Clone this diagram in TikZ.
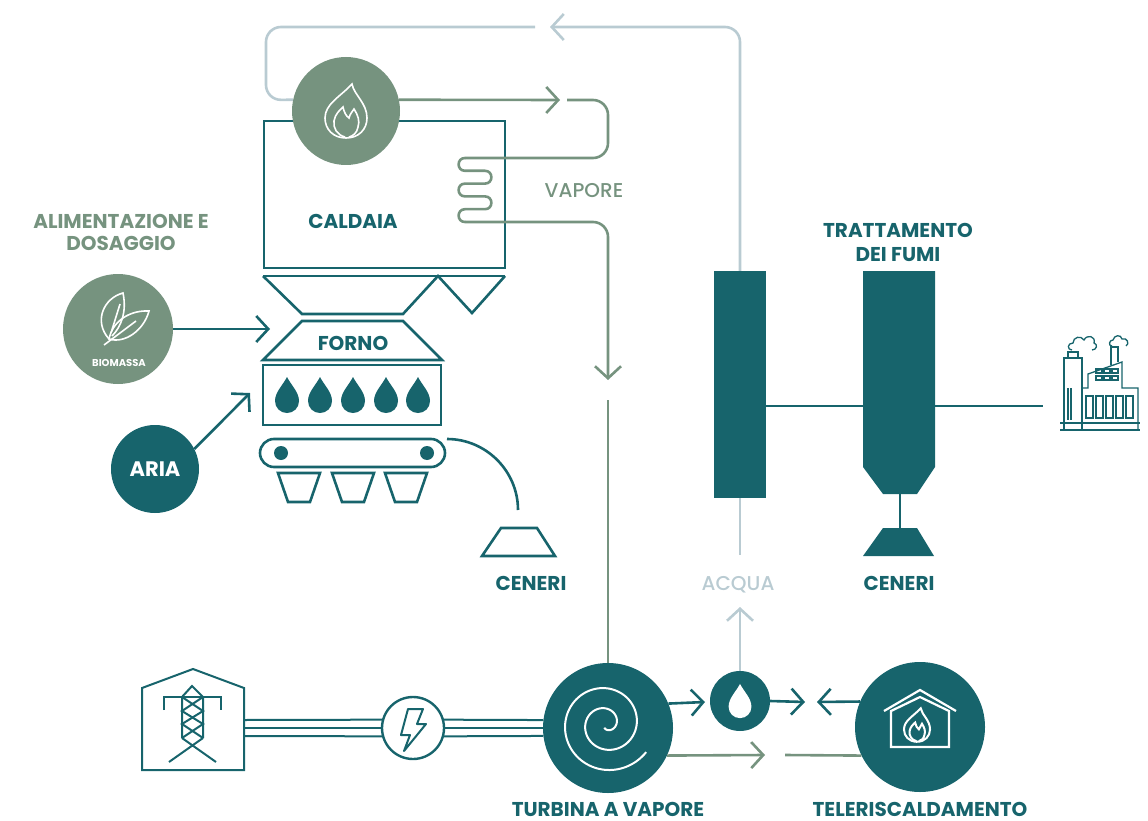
\documentclass[tikz,border=0pt]{standalone}
\usepackage{fontspec}
\setmainfont{Poppins}
\newfontfamily\medio{Poppins}[UprightFont=* Medium]
\usetikzlibrary{arrows.meta}

\definecolor{petrolio}{RGB}{23,100,108}
\definecolor{salvia}{RGB}{118,147,127}
\definecolor{nebbia}{RGB}{185,203,210}

% flame outline, centred on the origin
\newcommand{\fiamma}{%
  \draw (0,27) .. controls (-13,27) and (-21,18) .. (-21,7)
    .. controls (-21,-7) and (-6,-14) .. (6,-27)
    .. controls (8,-16) and (21,-8) .. (21,7)
    .. controls (21,18) and (13,27) .. cycle;
  \draw (-1,26) .. controls (-9,24) and (-13,17) .. (-12,10)
    .. controls (-11,3) and (-6,-1) .. (-3,-4)
    .. controls (-2,1) and (0,5) .. (3,7)
    .. controls (4,3) and (6,1) .. (8,-2)
    .. controls (12,4) and (14,10) .. (12,16)
    .. controls (11,22) and (7,25) .. (3,26);
}
% water drop, centred on the origin
\newcommand{\gocciapath}{(0,-18) .. controls (4,-10) and (12,-3) .. (12,6)
    .. controls (12,13) and (6.5,18) .. (0,18)
    .. controls (-6.5,18) and (-12,13) .. (-12,6)
    .. controls (-12,-3) and (-4,-10) .. cycle}

\begin{document}
\begin{tikzpicture}[x=1pt,y=-1pt,
    tubo/.style={line width=2.6pt},
    freccia/.style={-{Straight Barb[length=12pt,width=26pt]}},
    disco/.style={circle,inner sep=0pt,minimum size=#1},
    titolo/.style={font=\bfseries\fontsize{20}{24}\selectfont,text=petrolio,anchor=base,inner sep=0pt,align=center},
    nota/.style={font=\medio\fontsize{20}{24}\selectfont,anchor=base,inner sep=0pt}]
  \useasboundingbox (0,0) rectangle (1148,821);

  % caldaia, tramogge e forno
  \draw[petrolio,tubo] (264,121) rectangle (505,268);
  \node[titolo] (caldaia) at (353,229) {CALDAIA};
  \draw[petrolio,tubo] (263,276) -- (505,276);
  \draw[petrolio,tubo,line join=miter] (263,276) -- (302,314) -- (403,314) -- (438,276) -- (472,313) -- (505,276);
  \draw[petrolio,tubo] (302,321) -- (403,321) -- (442,360) -- (263,360) -- cycle;
  \node[titolo] (forno) at (353,350.5) {FORNO};
  \draw[petrolio,tubo] (263,365) rectangle (441,425);
  \foreach \cx in {287,320,353,386,418}
    \fill[petrolio,shift={(\cx,395)}] \gocciapath;
  % nastro e ceneri
  \draw[petrolio,tubo,rounded corners=14pt] (260,439) rectangle (445,467);
  \fill[petrolio] (281,453) circle[radius=7pt] (427,453) circle[radius=7pt];
  \foreach \bx in {278,332,385}
    \draw[petrolio,tubo] (\bx,473) -- (\bx+42,473) -- (\bx+32,502) -- (\bx+10,502) -- cycle;
  \draw[petrolio,tubo] (447,439) .. controls (486,439) and (518,471) .. (518,510);
  \draw[petrolio,tubo] (501,528) -- (537,528) -- (555,556) -- (482,556) -- cycle;
  \node[titolo] (ceneri1) at (531,590) {CENERI};

  % cerchi principali
  \node[disco=108pt,fill=salvia] (fiamma) at (346,111) {};
  \node[disco=110pt,fill=salvia] (biomassa) at (118,329) {};
  \node[disco=88pt,fill=petrolio,text=white,font=\bfseries\fontsize{21}{24}\selectfont] (aria) at (155,469) {ARIA};
  \node[disco=130pt,fill=petrolio] (turbina) at (608,728) {};
  \node[disco=60pt,fill=petrolio] (goccia) at (740,701) {};
  \node[disco=130pt,fill=petrolio] (teleris) at (920,727) {};
  \node[disco=62pt,draw=petrolio,line width=2.4pt] (fulmine) at (413,728) {};

  % icone
  \begin{scope}[shift={(346,111)},white,line width=1.6pt]
    \fiamma
  \end{scope}
  \begin{scope}[white,line width=1.6pt]
    \draw (109,339) .. controls (93,321) and (104,298) .. (123,293)
      .. controls (127,312) and (121,327) .. (112,336);
    \draw (109,339) .. controls (113,320) and (131,310) .. (149,311)
      .. controls (144,330) and (125,344) .. cycle;
    \draw (104,345) -- (136,321);
    \draw (111,333) -- (120,304);
  \end{scope}
  \node[font=\bfseries\fontsize{10}{12}\selectfont,text=white,anchor=base,inner sep=0pt] (bio) at (119,366) {BIOMASSA};
  \draw[white,line width=2pt] plot[domain=35:835,samples=240,smooth]
    ({606+(49-0.05625*(\x-35))*cos(\x)},{724+(49-0.05625*(\x-35))*sin(\x)});
  \fill[white,shift={(740,701)},scale=0.95] \gocciapath;
  \begin{scope}[white,line width=2.2pt]
    \draw (884,711) -- (920,690) -- (956,711);
    \draw (891,747) -- (891,711) -- (920,697) -- (949,711) -- (949,747) -- cycle;
  \end{scope}
  \begin{scope}[shift={(917,725)},scale=0.62,white,line width=2pt]
    \fiamma
  \end{scope}
  \draw[petrolio,line width=2pt,line join=round] (408,709) -- (423,709) -- (417,724) -- (426,724)
    -- (404,751) -- (410,735) -- (401,735) -- cycle;

  % alimentazione
  \node[titolo,text=salvia,font=\bfseries\fontsize{20}{21}\selectfont] (alim) at (121,250) {ALIMENTAZIONE E\\DOSAGGIO};
  \draw[petrolio,tubo,freccia] (biomassa.east) -- (270,329);
  \draw[petrolio,tubo,freccia] (aria.27) -- (250,393);

  % ritorno acqua
  \draw[nebbia,tubo,rounded corners=15pt] (fiamma.168) -- (266,100) -- (266,27) -- (535,27);

  % vapore verso la turbina
  \node[nota,text=salvia] (vapore) at (584,197) {VAPORE};
  \draw[salvia,tubo,freccia] (fiamma.12) -- (560,100);
  \draw[salvia,tubo,rounded corners=15pt] (567,100) -- (608,100) -- (608,158) -- (465,158);
  \draw[salvia,tubo] (465,158)
    .. controls (456.5,158) and (456.5,170.8) .. (465,170.8) -- (485,170.8)
    .. controls (493.5,170.8) and (493.5,183.6) .. (485,183.6) -- (465,183.6)
    .. controls (456.5,183.6) and (456.5,196.4) .. (465,196.4) -- (485,196.4)
    .. controls (493.5,196.4) and (493.5,209.2) .. (485,209.2) -- (465,209.2)
    .. controls (456.5,209.2) and (456.5,222) .. (465,222);
  \draw[salvia,tubo,rounded corners=15pt,freccia] (465,222) -- (608,222) -- (608,380);
  \draw[salvia,tubo] (608,400) -- (turbina.north);

  % scambiatore e trattamento fumi
  \node[fill=petrolio,minimum width=52pt,minimum height=227pt,inner sep=0pt] (scambiatore) at (740,384.5) {};
  \draw[nebbia,tubo,rounded corners=15pt,freccia] (scambiatore.north) -- (740,27) -- (550,27);
  \fill[petrolio] (863,271) -- (935,271) -- (935,467) -- (917,494) -- (883,494) -- (863,467) -- cycle;
  \coordinate (filtroW) at (863,406);
  \coordinate (filtroE) at (935,406);
  \coordinate (filtroS) at (900,494);
  \coordinate (camino) at (1043,406);
  \draw[petrolio,tubo] (scambiatore.east |- filtroW) -- (filtroW);
  \draw[petrolio,tubo] (filtroE) -- (camino);
  \draw[petrolio,tubo] (filtroS) -- (900,528);
  \fill[petrolio] (883,528) -- (917,528) -- (934,556) -- (863,556) -- cycle;
  \node[titolo] (fumi) at (898,261) {TRATTAMENTO\\DEI FUMI};
  \node[titolo] (ceneri2) at (899,590) {CENERI};
  \node[nota,text=nebbia] (acqua) at (738,590) {ACQUA};
  \draw[nebbia,tubo] (scambiatore.south) -- (740,555);
  \draw[nebbia,tubo,freccia] (goccia.north) -- (740,607);

  % stabilimento
  \begin{scope}[petrolio,line width=1.3pt]
    \draw (1064,430) -- (1064,358) -- (1082,358) -- (1082,430);
    \draw (1068,358) rectangle (1078,352);
    \draw (1068,388) -- (1068,420) (1071,388) -- (1071,420);
    \draw (1072,350) .. controls (1067,350) and (1067,343) .. (1073,343)
      .. controls (1073,337) and (1081,335) .. (1084,340)
      .. controls (1087,334) and (1096,336) .. (1094,343)
      .. controls (1098,344) and (1097,350) .. (1092,350);
    \draw (1111,365) -- (1111,347) -- (1118,347) -- (1118,362);
    \draw (1112,346) .. controls (1108,346) and (1109,340) .. (1113,340)
      .. controls (1114,335) and (1121,334) .. (1122,339)
      .. controls (1127,337) and (1130,344) .. (1126,346);
    \draw (1082,388) -- (1088,388) -- (1088,374) -- (1122,362) -- (1122,388) -- (1138,388) -- (1138,430);
    \foreach \wx in {1096,1104,1112}
      \foreach \wy in {369,376}
        \draw (\wx,\wy) rectangle ++(6,4);
    \foreach \wx in {1086,1096,1106,1116,1126}
      \draw (\wx,396) rectangle ++(7,22);
    \draw (1060,423) -- (1140,423);
    \draw (1060,430) -- (1140,430);
  \end{scope}

  % cabina elettrica e linea
  \begin{scope}[petrolio,line width=2pt]
    \draw (142,770) -- (142,688) -- (193,669) -- (244,688) -- (244,770) -- cycle;
    \draw (164,710) -- (164,697) -- (221,697) -- (221,710);
    \draw (182,738) -- (182,697) -- (192,686) -- (203,697) -- (203,738);
    \draw (182,697) -- (203,711) -- (182,724) -- (203,738);
    \draw (203,697) -- (182,711) -- (203,724) -- (182,738);
    \draw (182,738) -- (216,762) (203,738) -- (169,762);
  \end{scope}
  \coordinate (cabina) at (244,728);
  \foreach \s/\a/\b/\c in {8/165/15/173,0/180/0/180,-8/195/-15/187} {
    \draw[petrolio,line width=2pt] ([yshift=\s pt]cabina) -- (fulmine.\a);
    \draw[petrolio,line width=2pt] (fulmine.\b) -- (turbina.\c);
  }
  \node[titolo] (turbinalabel) at (608,816) {TURBINA A VAPORE};

  % uscite della turbina
  \draw[petrolio,tubo,freccia] (turbina.22) -- (705,702);
  \draw[petrolio,tubo,freccia] (goccia.east) -- (805,702);
  \draw[petrolio,tubo,freccia] (teleris.157) -- (817,702);
  \draw[salvia,tubo,freccia] (turbina.-25) -- (765,755);
  \draw[salvia,tubo] (785,755) -- (teleris.-154);
  \node[titolo] (telelabel) at (920,816) {TELERISCALDAMENTO};
\end{tikzpicture}
\end{document}
